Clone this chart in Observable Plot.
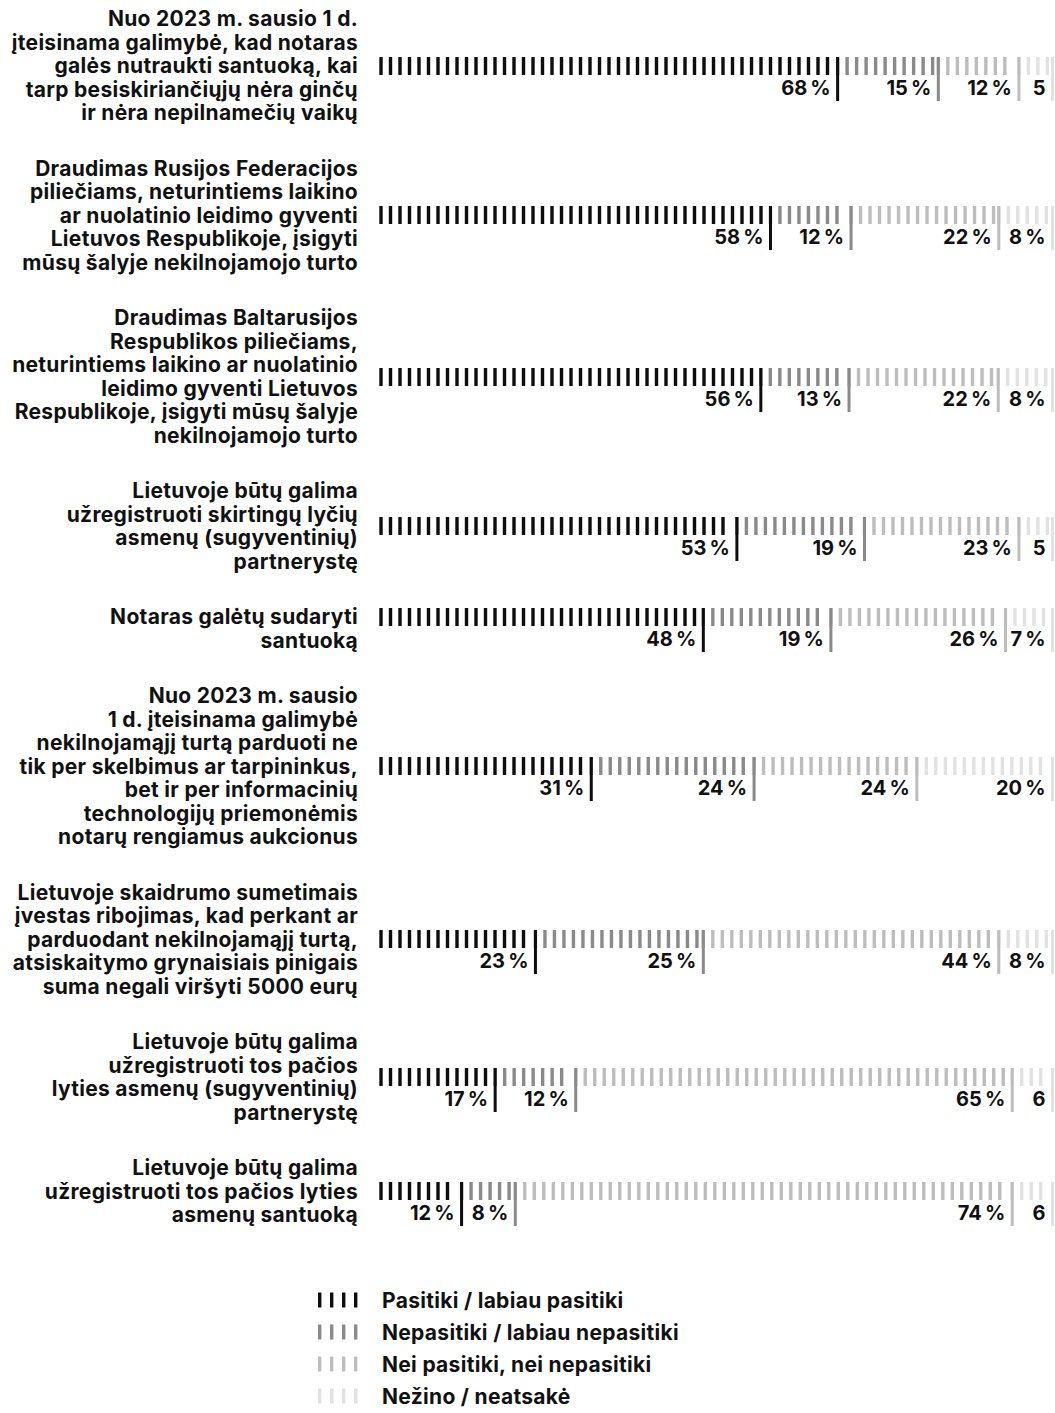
<!DOCTYPE html>
<html><head><meta charset="utf-8">
<script src="https://cdn.jsdelivr.net/npm/d3@7"></script>
<script src="https://cdn.jsdelivr.net/npm/@observablehq/plot@0.6"></script>
<style>
body{margin:0;background:#fff;font-family:Inter,Roboto,"Noto Sans",sans-serif;color:#111;}
#page{position:relative;width:1055px;height:1413px;overflow:hidden;}
#chart{padding-top:7px;}
.row{position:relative;margin-bottom:32px;}
.label{width:358px;text-align:right;font-weight:700;font-size:21px;line-height:23.5px;white-space:pre;letter-spacing:0.3px;}
.bar{position:absolute;left:370px;}
#legend{position:absolute;top:1284px;left:0;}
.lrow{display:flex;align-items:center;height:32px;}
.lrow svg{margin-left:318px;}
.lrow span{margin-left:24px;font-weight:700;font-size:21px;letter-spacing:0.3px;}
</style></head><body><div id="page"><div id="chart"></div><div id="legend"></div></div>
<script>
const statements = [
  "Nuo 2023 m. sausio 1 d.\nįteisinama galimybė, kad notaras\ngalės nutraukti santuoką, kai\ntarp besiskiriančiųjų nėra ginčų\nir nėra nepilnamečių vaikų",
  "Draudimas Rusijos Federacijos\npiliečiams, neturintiems laikino\nar nuolatinio leidimo gyventi\nLietuvos Respublikoje, įsigyti\nmūsų šalyje nekilnojamojo turto",
  "Draudimas Baltarusijos\nRespublikos piliečiams,\nneturintiems laikino ar nuolatinio\nleidimo gyventi Lietuvos\nRespublikoje, įsigyti mūsų šalyje\nnekilnojamojo turto",
  "Lietuvoje būtų galima\nužregistruoti skirtingų lyčių\nasmenų (sugyventinių)\npartnerystę",
  "Notaras galėtų sudaryti\nsantuoką",
  "Nuo 2023 m. sausio\n1 d. įteisinama galimybė\nnekilnojamąjį turtą parduoti ne\ntik per skelbimus ar tarpininkus,\nbet ir per informacinių\ntechnologijų priemonėmis\nnotarų rengiamus aukcionus",
  "Lietuvoje skaidrumo sumetimais\nįvestas ribojimas, kad perkant ar\nparduodant nekilnojamąjį turtą,\natsiskaitymo grynaisiais pinigais\nsuma negali viršyti 5000 eurų",
  "Lietuvoje būtų galima\nužregistruoti tos pačios\nlyties asmenų (sugyventinių)\npartnerystę",
  "Lietuvoje būtų galima\nužregistruoti tos pačios lyties\nasmenų santuoką"
];
const pasitiki   = [68, 58, 56, 53, 48, 31, 23, 17, 12];
const nepasitiki = [15, 12, 13, 19, 19, 24, 25, 12, 8];
const nei        = [12, 22, 22, 23, 26, 24, 44, 65, 74];
const nezino     = [5, 8, 8, 5, 7, 20, 8, 6, 6];
const seriesNames = ["Pasitiki / labiau pasitiki", "Nepasitiki / labiau nepasitiki", "Nei pasitiki, nei nepasitiki", "Nežino / neatsakė"];
const seriesColors = ["#0d0d0d", "#8a8a8a", "#bdbdbd", "#e2e2e2"];

const W = 685, H = 72, ML = 10.5, MR = 3, MT = 27, MB = 27;
const LINE = 23.5;
const pitch = 9.5;
const step = pitch / (W - ML - MR);
const chart = document.getElementById("chart");

statements.forEach((label, i) => {
  const vals = [pasitiki[i], nepasitiki[i], nei[i], nezino[i]];
  const total = d3.sum(vals);
  let c = 0;
  const segs = vals.map((v, j) => {
    const x1 = c / total; c += v;
    return {series: seriesNames[j], value: v, x1, x2: c / total};
  });
  const stripes = segs.flatMap(s => d3.range(s.x1, s.x2 - step * 0.5, step).map(x => ({series: s.series, x})));
  const plot = Plot.plot({
    width: W, height: H,
    marginLeft: ML, marginRight: MR, marginTop: MT, marginBottom: MB,
    x: {domain: [0, 1], axis: null},
    color: {domain: seriesNames, range: seriesColors},
    style: {background: "transparent", overflow: "visible"},
    marks: [
      Plot.tickX(stripes, {x: "x", stroke: "series", strokeWidth: 3.4}),
      Plot.ruleX(segs, {x: "x2", stroke: "series", strokeWidth: 3, insetBottom: -26}),
      Plot.text(segs, {
        x: "x2",
        text: d => d.value >= 7 ? `${d.value}\u202F%` : `${d.value}`,
        frameAnchor: "bottom", textAnchor: "end", dx: -7, dy: 19,
        fontSize: 20, fontWeight: 700, fill: "#111",
        fontFamily: "Inter, Roboto, 'Noto Sans', sans-serif"
      })
    ]
  });
  const row = document.createElement("div");
  row.className = "row";
  const lab = document.createElement("div");
  lab.className = "label";
  lab.textContent = label;
  row.appendChild(lab);
  const n = label.split("\n").length;
  const barCenter = n > 2 ? n * LINE / 2 : LINE / 2;
  const wrap = document.createElement("div");
  wrap.className = "bar";
  wrap.style.top = (barCenter - (MT + 9)) + "px";
  wrap.appendChild(plot);
  row.appendChild(wrap);
  chart.appendChild(row);
});

const legend = document.getElementById("legend");
seriesNames.forEach((name, j) => {
  const r = document.createElement("div");
  r.className = "lrow";
  const ns = "http://www.w3.org/2000/svg";
  const svg = document.createElementNS(ns, "svg");
  svg.setAttribute("width", 40); svg.setAttribute("height", 16);
  [0, 1, 2, 3].forEach(k => {
    const l = document.createElementNS(ns, "line");
    l.setAttribute("x1", 1.7 + k * 12); l.setAttribute("x2", 1.7 + k * 12);
    l.setAttribute("y1", 0.5); l.setAttribute("y2", 15.5);
    l.setAttribute("stroke", seriesColors[j]); l.setAttribute("stroke-width", 3.4);
    svg.appendChild(l);
  });
  r.appendChild(svg);
  const s = document.createElement("span");
  s.textContent = name;
  r.appendChild(s);
  legend.appendChild(r);
});
</script></body></html>
